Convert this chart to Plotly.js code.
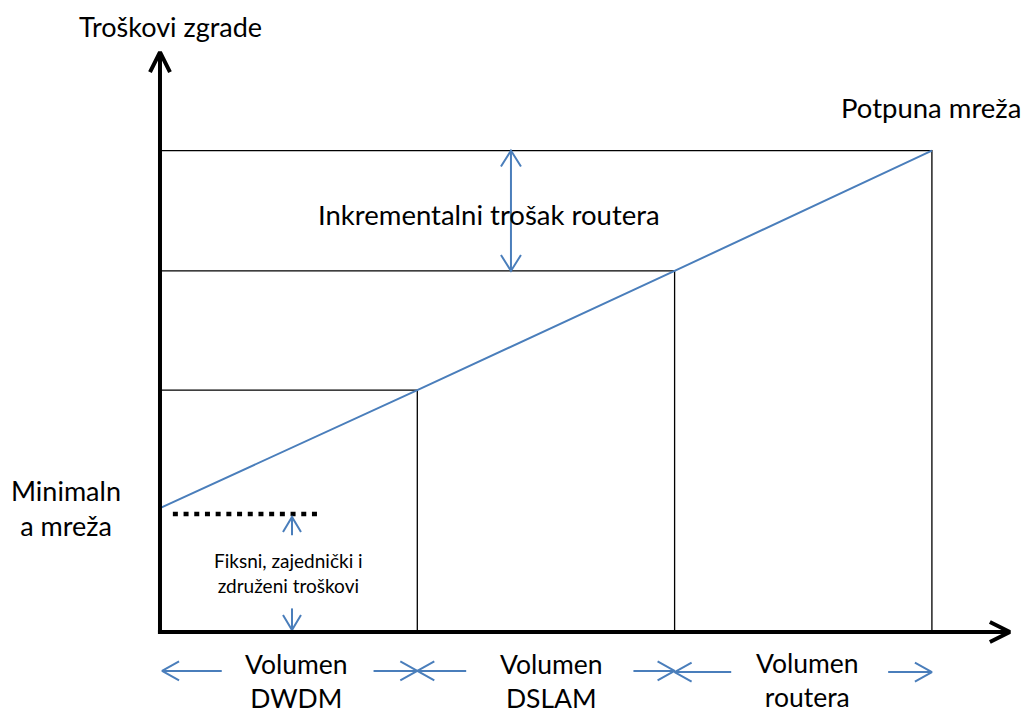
<!DOCTYPE html>
<html><head><meta charset="utf-8">
<script src="https://cdn.plot.ly/plotly-3.0.1.min.js"></script>
<style>html,body{margin:0;padding:0;background:#fff}</style>
</head><body><div id="chart" style="width:1024px;height:715px"></div>
<script>
// ---- data (volume units on x, cost units on y) ----
const volumeEdges = [0, 1, 2, 3];
const networkCost = [1.05, 2.05, 3.06, 4.08];
const fixedCost = 1.0;
const fixedDotsX = [0.05, 0.63];
const fixedArrowX = 0.513;
const incrementArrowX = 1.364;
const segmentLabels = ['Volumen<br>DWDM', 'Volumen<br>DSLAM', 'Volumen<br>routera'];
const segmentLabelX = [0.532, 1.52, 2.518];
const segmentLabelY = [-0.418, -0.418, -0.405];
const segmentArrowY = [-0.33, -0.33, -0.34];
const segmentArrowLeftTail = [0.24, 1.19, 2.22];
const segmentArrowRightTail = [0.83, 1.84, 2.83];
const axisTopY = 4.915;
const axisEndX = 3.303;

const BLUE = '#4a7ebb';
const W = 1024, H = 715;
const XR = [-0.6218, 3.3579], YR = [-0.7034, 5.3559];
function toPx(x, y) { return [(x - XR[0]) / (XR[1] - XR[0]) * W, H - (y - YR[0]) / (YR[1] - YR[0]) * H]; }
function fromPx(px, py) { return [XR[0] + px / W * (XR[1] - XR[0]), YR[0] + (H - py) / H * (YR[1] - YR[0])]; }

function head(tip, from, len, half) {
  const a = toPx(tip[0], tip[1]), b = toPx(from[0], from[1]);
  let dx = a[0] - b[0], dy = a[1] - b[1]; const L = Math.hypot(dx, dy); dx /= L; dy /= L;
  const px = -dy, py = dx;
  const w1 = fromPx(a[0] - dx * len + px * half, a[1] - dy * len + py * half);
  const w2 = fromPx(a[0] - dx * len - px * half, a[1] - dy * len - py * half);
  return { x: [null, w1[0], tip[0], w2[0]], y: [null, w1[1], tip[1], w2[1]] };
}
function arrow(tail, tip, color, width, len, half, both) {
  let xs = [tail[0], tip[0]], ys = [tail[1], tip[1]];
  const h = head(tip, tail, len, half); xs = xs.concat(h.x); ys = ys.concat(h.y);
  if (both) { const h2 = head(tail, tip, len, half); xs = xs.concat(h2.x); ys = ys.concat(h2.y); }
  return { type: 'scatter', mode: 'lines', x: xs, y: ys, hoverinfo: 'skip',
    line: { color: color, width: width }, showlegend: false };
}

const traces = [];
// rectangles
for (let i = 1; i < volumeEdges.length; i++) {
  traces.push({ type: 'scatter', mode: 'lines', hoverinfo: 'skip', showlegend: false,
    x: [0, volumeEdges[i], volumeEdges[i]], y: [networkCost[i], networkCost[i], 0],
    line: { color: '#000', width: 1.3 } });
}
// cost line
traces.push({ type: 'scatter', mode: 'lines', hoverinfo: 'skip', showlegend: false,
  x: volumeEdges, y: networkCost, line: { color: BLUE, width: 2 } });
// fixed cost dotted line
traces.push({ type: 'scatter', mode: 'lines', hoverinfo: 'skip', showlegend: false,
  x: fixedDotsX, y: [fixedCost, fixedCost], line: { color: '#000', width: 4.5, dash: '5px,5.7px' } });
// fixed cost arrows
traces.push(arrow([fixedArrowX, fixedCost * 0.82], [fixedArrowX, fixedCost * 0.975], BLUE, 2, 15, 9));
traces.push(arrow([fixedArrowX, fixedCost * 0.20], [fixedArrowX, fixedCost * 0.017], BLUE, 2, 15, 9));
// incremental cost double arrow
traces.push(arrow([incrementArrowX, networkCost[2]], [incrementArrowX, networkCost[3]], BLUE, 2, 16, 10, true));
// segment arrows
for (let i = 0; i < 3; i++) {
  traces.push(arrow([segmentArrowLeftTail[i], segmentArrowY[i]], [volumeEdges[i] + (i === 0 ? 0.008 : 0), segmentArrowY[i]], BLUE, 2, 17, 9.5));
  traces.push(arrow([segmentArrowRightTail[i], segmentArrowY[i]], [volumeEdges[i + 1], segmentArrowY[i]], BLUE, 2, 17, 9.5));
}
// axes
traces.push(arrow([0, 0], [0, axisTopY], '#000', 4, 20, 10));
traces.push(arrow([-0.008, 0], [axisEndX, 0], '#000', 4, 20, 10));

const F = 'Lato, "Noto Sans", sans-serif';
function ann(text, x, y, size) {
  return { text: text, x: x, y: y, xref: 'x', yref: 'y', showarrow: false,
    xanchor: 'center', yanchor: 'middle', font: { family: F, size: size, color: '#000' } };
}
const annotations = [
  ann('Troškovi zgrade', 0.039, 5.13, 27),
  ann('Potpuna mreža', 2.997, 4.449, 27.5),
  ann('Inkrementalni trošak routera', 1.279, 3.534, 27.5),
  ann('Minimaln<br>a mreža', -0.365, networkCost[0], 27),
  ann('Fiksni, zajednički i<br>združeni troškovi', 0.498, 0.504, 19)
];
for (let i = 0; i < 3; i++) annotations.push(ann(segmentLabels[i], segmentLabelX[i], segmentLabelY[i], 26.5));

Plotly.newPlot('chart', traces, {
  width: W, height: H, margin: { l: 0, r: 0, t: 0, b: 0 },
  paper_bgcolor: '#fff', plot_bgcolor: '#fff', showlegend: false,
  xaxis: { range: XR, visible: false, fixedrange: true },
  yaxis: { range: YR, visible: false, fixedrange: true },
  annotations: annotations
}, { displayModeBar: false, staticPlot: true });
</script></body></html>
